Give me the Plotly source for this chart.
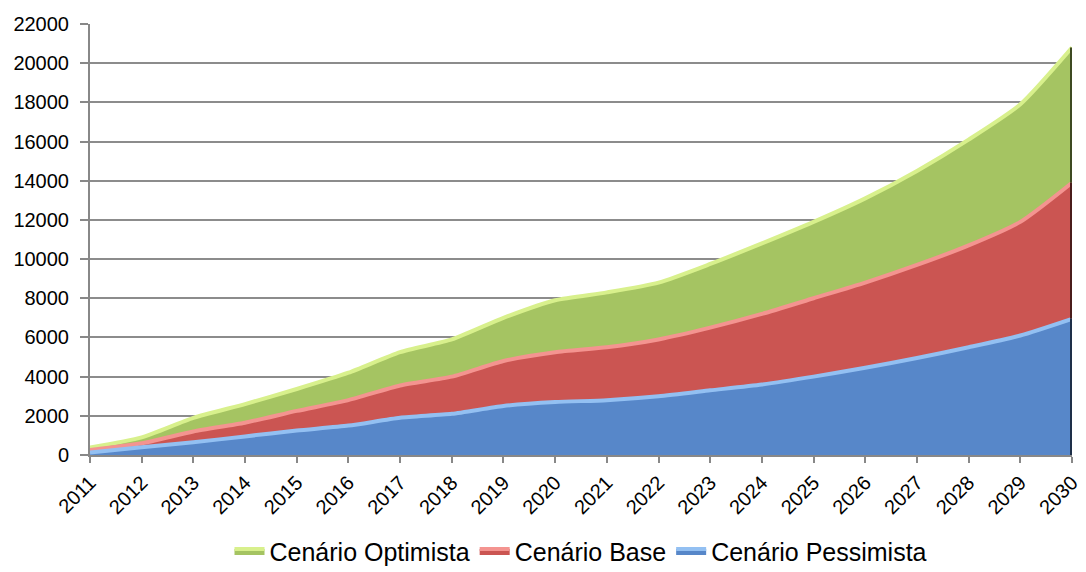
import plotly.graph_objects as go

years = list(range(2011, 2031))
optimista = [380, 900, 1900, 2600, 3370, 4200, 5250, 5900, 7000, 7900, 8300, 8800, 9750, 10800, 11900, 13100, 14500, 16100, 17900, 20800]
base = [250, 600, 1200, 1650, 2250, 2800, 3550, 4000, 4800, 5250, 5500, 5900, 6500, 7200, 8000, 8800, 9700, 10700, 11900, 13900]
pessimista = [130, 400, 650, 950, 1250, 1500, 1900, 2100, 2500, 2700, 2800, 3000, 3300, 3600, 4000, 4450, 4950, 5500, 6100, 6950]

series = [
    ("Cenário Optimista", optimista, "#A5C462", "#D8F08C", "#3E4A22"),
    ("Cenário Base", base, "#CB5552", "#F49490", "#4A1C1B"),
    ("Cenário Pessimista", pessimista, "#5787C9", "#93C0F2", "#1E2F48"),
]

fig = go.Figure()
for name, vals, fillc, linec, darkc in series:
    fig.add_trace(go.Scatter(
        x=years, y=vals, name=name, mode="lines",
        fill="tozeroy", fillcolor=fillc,
        line=dict(color=linec, width=4, shape="spline", smoothing=0.6),
    ))

# dark bevel edge on the right side of each band
for i, (name, vals, fillc, linec, darkc) in enumerate(series):
    lower = series[i + 1][1][-1] if i + 1 < len(series) else 0
    fig.add_trace(go.Scatter(
        x=[years[-1], years[-1]], y=[lower, vals[-1]], mode="lines",
        line=dict(color=darkc, width=4), showlegend=False, hoverinfo="skip",
    ))

fig.update_layout(
    width=1078, height=564,
    margin=dict(l=82, r=14, t=16, b=117, autoexpand=False),
    paper_bgcolor="white", plot_bgcolor="white",
    font=dict(family="Liberation Sans, Arial, sans-serif", color="black", size=20),
    showlegend=True,
    legend=dict(orientation="h", x=0.5, xanchor="center", y=-0.17, yanchor="top",
                font=dict(size=25), itemwidth=30, traceorder="normal",
                entrywidth=0, tracegroupgap=0),
)
fig.update_xaxes(
    range=[2011, 2030], tickmode="array", tickvals=years, ticktext=[str(y) for y in years],
    tickangle=-45, showgrid=False, showline=True, linecolor="#888888", linewidth=2,
    ticks="outside", ticklen=6, tickcolor="#888888", tickwidth=2,
    tickfont=dict(size=20), automargin=False, ticklabeloverflow="allow",
)
fig.update_yaxes(
    range=[0, 22000], dtick=2000, showgrid=True, gridcolor="#8C8C8C", gridwidth=2,
    showline=True, linecolor="#888888", linewidth=2, zeroline=False,
    ticks="outside", ticklen=8, tickcolor="#888888", tickwidth=2, ticklabelstandoff=7,
    tickfont=dict(size=20), tickformat="d", automargin=False,
)

fig.write_html("out.html")
